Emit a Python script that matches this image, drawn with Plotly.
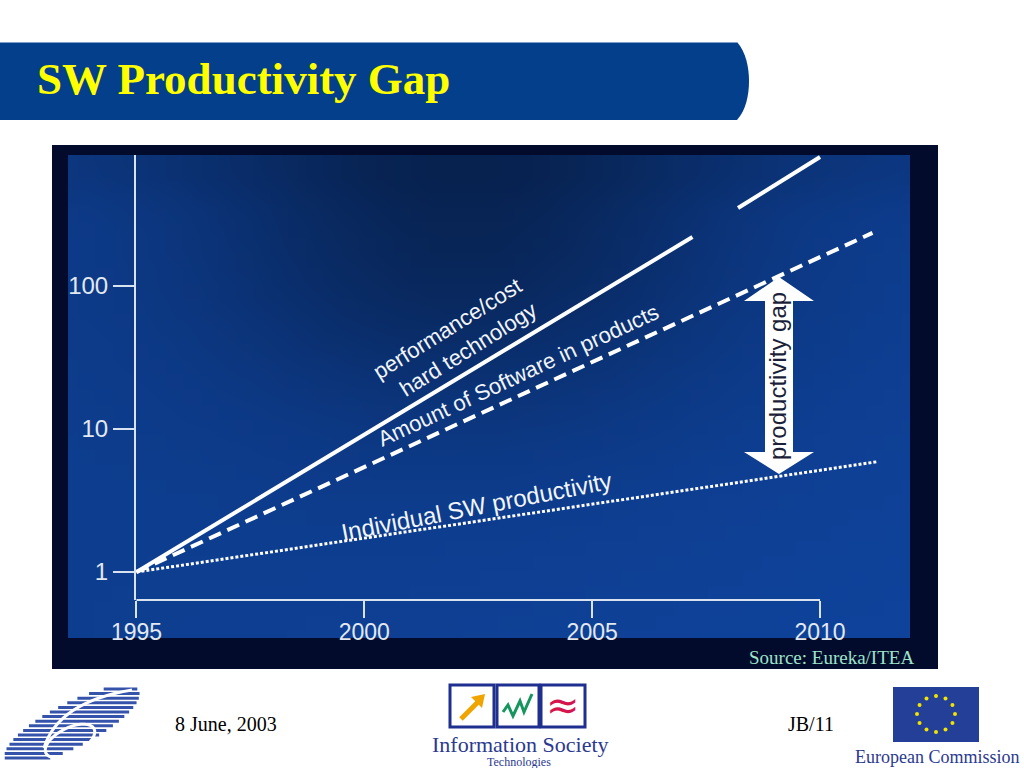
import math
import zlib
import struct
import base64
import plotly.graph_objects as go

# ---------------- data ----------------
perf_years = [1995, 2007.2, None, 2008.2, 2010.0]   # performance/cost hard technology (line has a break)
perf_vals = [1, 220, None, 351, 798]
sw_years = [1995, 2011.15]                          # Amount of Software in products
sw_vals = [1, 235]
ind_years = [1995, 2011.25]                         # Individual SW productivity
ind_vals = [1, 5.9]

x_ticks = [1995, 2000, 2005, 2010]
x_tick_labels = ["1995", "2000", "2005", "2010"]
y_ticks = [1, 10, 100]
y_tick_labels = ["1", "10", "100"]

title_text = "SW Productivity Gap"
label_perf = "performance/cost<br>hard technology"
label_sw = "Amount of Software in products"
label_ind = "Individual SW productivity"
label_gap = "productivity gap"
source_text = "Source: Eureka/ITEA"
date_text = "8 June, 2003"
page_text = "JB/11"

# ---------------- helpers ----------------
W, H = 1024, 768


def px(x):
    return x / W


def py(y):
    return 1 - y / H


def P(x, y):
    return f"{px(x):.5f},{py(y):.5f}"


def poly_path(pts, close=True):
    s = "M " + " L ".join(P(x, y) for x, y in pts)
    return s + (" Z" if close else "")


def make_png(w, h, func):
    rows = []
    for j in range(h):
        row = bytearray([0])
        for i in range(w):
            r, g, b = func(i / (w - 1), j / (h - 1))
            row += bytes([max(0, min(255, int(r))), max(0, min(255, int(g))), max(0, min(255, int(b)))])
        rows.append(bytes(row))
    raw = b"".join(rows)

    def chunk(t, d):
        c = struct.pack(">I", len(d)) + t + d
        return c + struct.pack(">I", zlib.crc32(t + d) & 0xFFFFFFFF)

    png = (b"\x89PNG\r\n\x1a\n"
           + chunk(b"IHDR", struct.pack(">IIBBBBB", w, h, 8, 2, 0, 0, 0))
           + chunk(b"IDAT", zlib.compress(raw))
           + chunk(b"IEND", b""))
    return "data:image/png;base64," + base64.b64encode(png).decode()


def bg_color(u, v):
    base = (14, 62, 144)
    dark = 0.40 * math.exp(-((u - 0.47) / 0.33) ** 2 - ((v - 0.12) / 0.42) ** 2)
    dark += 0.08 * math.exp(-((v - 0.0) / 0.08) ** 2)
    bright = 0.08 * u * v
    f = (1 - dark) * (1 + bright)
    return tuple(c * f for c in base)


bg_uri = make_png(48, 32, bg_color)

# ---------------- axes geometry ----------------
X0_PX, X1_PX = 136, 910          # plot area horizontally
Y_BOT_PX, Y_TOP_PX = 600, 155    # plot area vertically
PX_PER_YEAR = (820 - 136) / 15.0
x_range = [1995 - 0.01, 1995 + (X1_PX - X0_PX) / PX_PER_YEAR]
PX_PER_DEC = 143.0
y_range = [(572 - Y_BOT_PX) / PX_PER_DEC, (572 - Y_TOP_PX) / PX_PER_DEC]

axis_col = "#d9e3ef"
tick_font = dict(family="Liberation Sans, Arial, sans-serif", size=24, color="#e2e9f1")

fig = go.Figure()
fig.add_trace(go.Scatter(x=perf_years, y=perf_vals, mode="lines", connectgaps=False,
                         line=dict(color="white", width=4), hoverinfo="skip"))
fig.add_trace(go.Scatter(x=sw_years, y=sw_vals, mode="lines",
                         line=dict(color="white", width=4, dash="13px,7px"), hoverinfo="skip"))
fig.add_trace(go.Scatter(x=ind_years, y=ind_vals, mode="lines",
                         line=dict(color="white", width=3, dash="3px,2px"), hoverinfo="skip"))

shapes = []
# dark frame around the chart picture
frame_col = "#020b2b"
for (x0, y0, x1, y1) in [(52, 145, 938, 155), (52, 638, 938, 669), (52, 145, 68, 669), (910, 145, 938, 669)]:
    shapes.append(dict(type="rect", xref="paper", yref="paper", x0=px(x0), y0=py(y1), x1=px(x1), y1=py(y0),
                       fillcolor=frame_col, line=dict(width=0), layer="below"))

# title bar
bar_path = (f"M {P(0,42)} L {P(737,42)} C {P(746,52)} {P(749,68)} {P(749,81)} "
            f"C {P(749,95)} {P(746,110)} {P(737,120)} L {P(0,120)} Z")
shapes.append(dict(type="path", xref="paper", yref="paper", path=bar_path,
                   fillcolor="#033f8a", line=dict(width=0), layer="below"))
shapes.append(dict(type="line", xref="paper", yref="paper", x0=0, x1=px(737), y0=py(42.5), y1=py(42.5),
                   line=dict(color="#7d9fcf", width=1), layer="below"))

# x axis base line (1995..2010)
shapes.append(dict(type="line", xref="x", yref="paper", x0=x_ticks[0], x1=x_ticks[-1],
                   y0=py(Y_BOT_PX), y1=py(Y_BOT_PX), line=dict(color=axis_col, width=2)))

# productivity gap double arrow
cx = 779
arrow_pts = [(cx, 277), (cx + 35, 301), (cx + 14, 301), (cx + 14, 452), (cx + 35, 452), (cx, 474),
             (cx - 35, 452), (cx - 14, 452), (cx - 14, 301), (cx - 35, 301)]
shapes.append(dict(type="path", xref="paper", yref="paper", path=poly_path(arrow_pts),
                   fillcolor="white", line=dict(width=0)))

# ---- footer: FP6 logo (striped tilted ellipse with a "6") ----
ecx, ecy, ea, eb, eth = 72, 725, 75, 22, math.radians(27)
c, s = math.cos(eth), math.sin(eth)
A = c * c / ea ** 2 + s * s / eb ** 2
y_ = 689.0
while y_ <= 762:
    v = -(y_ - ecy)
    B = 2 * v * (c * s / ea ** 2 - c * s / eb ** 2)
    C = v * v * (s * s / ea ** 2 + c * c / eb ** 2) - 1
    disc = B * B - 4 * A * C
    if disc > 0:
        u1 = (-B - math.sqrt(disc)) / (2 * A)
        u2 = (-B + math.sqrt(disc)) / (2 * A)
        shapes.append(dict(type="line", xref="paper", yref="paper", x0=px(max(ecx + u1, 2)), x1=px(ecx + u2),
                           y0=py(y_), y1=py(y_), line=dict(color="#3553ab", width=3)))
    y_ += 4.6
bowl = []
for k in range(0, 361, 10):
    t = math.radians(k)
    xx, yy = 27 * math.cos(t), 13 * math.sin(t)
    bowl.append((70 + xx * c - yy * s, 741 - (xx * s + yy * c)))
shapes.append(dict(type="path", xref="paper", yref="paper", path=poly_path(bowl, close=False),
                   line=dict(color="white", width=3)))
shapes.append(dict(type="path", xref="paper", yref="paper",
                   path=f"M {P(44,748)} Q {P(58,702)} {P(132,690)}",
                   line=dict(color="white", width=3)))

# ---- footer: Information Society Technologies logo ----
for (x0, x1) in [(450, 494), (497, 539), (541, 585)]:
    shapes.append(dict(type="rect", xref="paper", yref="paper", x0=px(x0), x1=px(x1), y0=py(727), y1=py(685),
                       fillcolor="white", line=dict(color="#1f2f8f", width=3)))
shapes.append(dict(type="path", xref="paper", yref="paper", path=poly_path([(461, 719), (478, 702)], close=False),
                   line=dict(color="#f0a400", width=5)))
shapes.append(dict(type="path", xref="paper", yref="paper", path=poly_path([(485, 694), (471, 697), (482, 708)]),
                   fillcolor="#f0a400", line=dict(width=0)))
shapes.append(dict(type="path", xref="paper", yref="paper",
                   path=poly_path([(503, 712), (508, 705), (513, 716), (520, 701), (524, 712), (532, 694)], close=False),
                   line=dict(color="#16955f", width=3)))

# ---- footer: EU flag ----
shapes.append(dict(type="rect", xref="paper", yref="paper", x0=px(893), x1=px(979), y0=py(742), y1=py(687),
                   fillcolor="#233f98", line=dict(width=0)))
for k in range(12):
    t = 2 * math.pi * k / 12
    sx, sy = 936 + 19 * math.cos(t), 714 + 18 * math.sin(t)
    shapes.append(dict(type="circle", xref="paper", yref="paper", x0=px(sx - 2), x1=px(sx + 2),
                       y0=py(sy + 2), y1=py(sy - 2), fillcolor="#f2e300", line=dict(width=0)))

serif = "Liberation Serif, Times New Roman, serif"
sans = "Liberation Sans, Arial, sans-serif"
annotations = [
    dict(text=f"<b>{title_text}</b>", x=px(35), y=py(79), xanchor="left", yanchor="middle",
         font=dict(family=serif, size=45, color="#ffff00")),
    dict(text=label_perf, x=px(455), y=py(341), textangle=-32, align="right",
         font=dict(family=sans, size=22, color="#f2f5f9")),
    dict(text=label_sw, x=px(518), y=py(376), textangle=-25,
         font=dict(family=sans, size=22, color="#f2f5f9")),
    dict(text=label_ind, x=px(476), y=py(506), textangle=-11,
         font=dict(family=sans, size=24, color="#f2f5f9")),
    dict(text=label_gap, x=px(cx - 1), y=py(376), textangle=-90,
         font=dict(family=sans, size=24, color="#1b1f3a")),
    dict(text=source_text, x=px(916), y=py(657), xanchor="right", yanchor="middle",
         font=dict(family=serif, size=19, color="#9fe3cc")),
    dict(text=date_text, x=px(173), y=py(724), xanchor="left", yanchor="middle",
         font=dict(family=serif, size=20, color="black")),
    dict(text=page_text, x=px(786), y=py(724), xanchor="left", yanchor="middle",
         font=dict(family=serif, size=20, color="black")),
    dict(text="Information Society", x=px(520), y=py(744),
         font=dict(family=serif, size=22, color="#2b3990")),
    dict(text="Technologies", x=px(519), y=py(762),
         font=dict(family=serif, size=12, color="#2b3990")),
    dict(text="≈", x=px(563), y=py(705),
         font=dict(family="DejaVu Sans", size=40, color="#d4154e")),
    dict(text="European Commission", x=px(937), y=py(757),
         font=dict(family=serif, size=18, color="#2b3990")),
]
for a in annotations:
    a.setdefault("xanchor", "center")
    a.setdefault("yanchor", "middle")
    a.update(xref="paper", yref="paper", showarrow=False)

fig.update_layout(
    width=W, height=H, margin=dict(l=0, r=0, t=0, b=0, pad=0, autoexpand=False),
    paper_bgcolor="white", plot_bgcolor="rgba(0,0,0,0)",
    showlegend=False, hovermode=False,
    xaxis=dict(domain=[px(X0_PX), px(X1_PX)], range=x_range, tickvals=x_ticks, ticktext=x_tick_labels,
               ticks="outside", ticklen=17, tickwidth=2, tickcolor=axis_col, showline=False,
               showgrid=False, zeroline=False, tickfont=dict(tick_font, size=23), fixedrange=True,
               automargin=False, ticklabelstandoff=-6),
    yaxis=dict(domain=[py(Y_BOT_PX), py(Y_TOP_PX)], type="log", range=y_range, tickvals=y_ticks,
               ticktext=y_tick_labels, ticks="outside", ticklen=21, tickwidth=2, tickcolor=axis_col,
               showline=True, linecolor=axis_col, linewidth=2, showgrid=False, zeroline=False,
               tickfont=tick_font, fixedrange=True, automargin=False),
    shapes=shapes, annotations=annotations,
    images=[dict(source=bg_uri, xref="paper", yref="paper", x=px(68), y=py(155), sizex=px(910) - px(68),
                 sizey=(639 - 155) / H, sizing="stretch", layer="below", xanchor="left", yanchor="top")],
)

fig.write_html("out.html", config={"displayModeBar": False},
               post_script="document.body.style.margin='0px';document.body.style.overflow='hidden';")
